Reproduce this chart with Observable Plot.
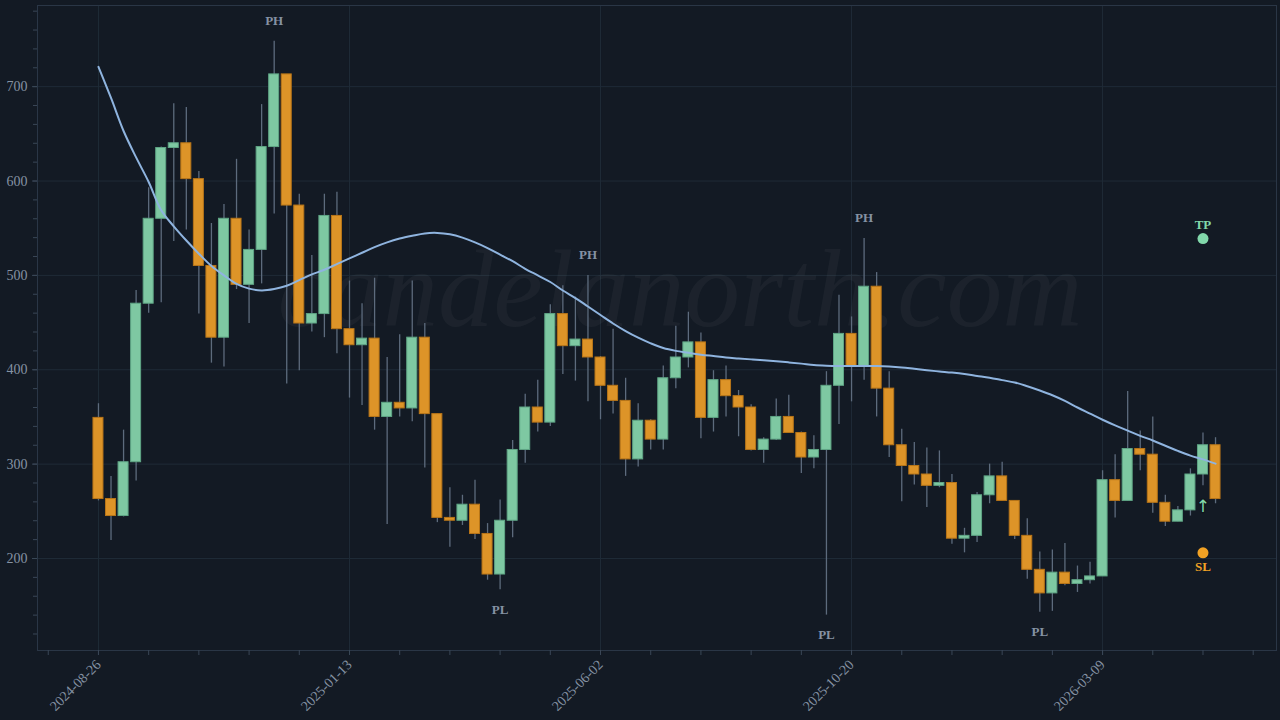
<!DOCTYPE html>
<html><head><meta charset="utf-8">
<script src="https://cdn.jsdelivr.net/npm/d3@7"></script>
<script src="https://cdn.jsdelivr.net/npm/@observablehq/plot@0.6"></script>
<style>
html,body{margin:0;padding:0;background:#131a24;overflow:hidden;}
</style></head><body><div id="chart"></div>
<script>
// ---- data (weekly candles starting 2024-08-26) ----
const startDate = "2024-08-26";
const opens  = [349,263,245,302,470,560,635,640,602,510,434,560,490,527,636,713,574,449,459,563,443,426,433,350,365,359,434,353,243,240,257,226,183,240,315,360,344,459,425,432,413,383,367,305,346,326,391,413,429,349,389,372,360,315,326,350,333,307,315,383,438,404,488,380,320,298,289,277,280,221,224,267,287,261,224,188,163,185,173,177,181,283,261,316,310,259,239,251,289,320];
const highs  = [364,287,336,484,593,636,682,678,610,555,575,623,548,681,748,713,586,521,586,588,494,470,497,413,437,494,449,353,275,267,283,237,262,325,374,389,469,489,477,500,414,443,391,364,347,404,446,461,439,399,404,378,363,328,369,373,334,330,398,479,456,539,503,398,337,323,317,314,289,232,270,300,302,261,242,207,209,216,192,196,293,310,377,335,350,267,255,295,333,328];
const lows   = [261,219,244,282,460,471,536,548,459,407,403,485,449,491,565,385,399,440,434,417,370,362,336,236,350,345,296,238,212,235,220,177,167,222,301,334,340,395,388,366,347,353,287,297,315,315,380,402,327,334,350,329,314,301,325,333,290,295,140,342,366,389,350,307,260,278,254,275,215,206,217,258,261,220,178,143,144,171,164,173,181,243,261,293,248,234,239,245,277,258];
const closes = [263,245,302,470,560,635,640,602,510,434,560,490,527,636,713,574,449,459,563,443,426,433,350,365,359,434,353,243,240,257,226,183,240,315,360,344,459,425,432,413,383,367,305,346,326,391,413,429,349,389,372,360,315,326,350,333,307,315,383,438,404,488,380,320,298,289,277,280,221,224,267,287,261,224,188,163,185,173,177,181,283,261,316,310,259,239,251,289,320,263];
const maValues = [721,688,653,625,599,569,552,537,523,510,500,491,486,484,485.5,489,495,501,506,512,518,524,530,535,539,542,544.5,545,543.5,540,535,529,522,515,507,500,493,484,476,467,458,449,441,434,428,423,420,418,416,414.5,413,412,411,410,409,407.8,406.5,405,404.3,404,404,404,404,403.5,402.5,401,399.5,398.2,397,395.5,393.5,391.5,389,386.5,382.5,378,373,367,360,353.5,347,341,335.5,330,325,319.5,314,309,305,300.5];
const xTickLabels = ["2024-08-26","2025-01-13","2025-06-02","2025-10-20","2026-03-09"];
const yTickLabels = [200,300,400,500,600,700];
const pivotHighIdx = [14,39,61];
const pivotLowIdx = [32,58,75];
const signalIdx = 88;
const tpValue = 539;
const slValue = 206;
const watermark = "candelanorth.com";

// ---- colours ----
const BG = "#131a24", UP = "#7ec8a2", UP_S = "#5fa585", DOWN = "#dd9428", DOWN_S = "#b87518";
const WICK = "#5d6b7d", GRID = "#1f2b37", AXIS = "#3a4757", TXT = "#8592a3";

const start = new Date(startDate + "T00:00:00Z");
const dates = d3.utcMonday.range(start, d3.utcMonday.offset(start, opens.length));
const candles = dates.map((date, i) => ({date, open: opens[i], high: highs[i], low: lows[i], close: closes[i], ma: maValues[i]}));
const pad = 34;
const xDomain = [d3.utcDay.offset(dates[0], -pad), d3.utcDay.offset(dates[dates.length - 1], pad)];
const xMajor = xTickLabels.map(s => new Date(s + "T00:00:00Z"));
const xMinor = d3.utcMonday.range(d3.utcMonday.offset(start, -4), xDomain[1], 4);
const yMinor = d3.range(120, 790, 20);
const half = 67; // hours, half body width
const highsP = pivotHighIdx.map(i => candles[i]);
const lowsP = pivotLowIdx.map(i => candles[i]);
const sig = candles[signalIdx];

const chart = Plot.plot({
  width: 1280, height: 720,
  marginLeft: 37, marginRight: 4, marginTop: 5, marginBottom: 70,
  style: {background: BG, color: TXT, fontFamily: "Liberation Serif", fontSize: "14px"},
  x: {type: "utc", domain: xDomain},
  y: {domain: [102.5, 786]},
  marks: [
    Plot.gridY(yTickLabels, {stroke: GRID, strokeOpacity: 1}),
    Plot.gridX(xMajor, {stroke: GRID, strokeOpacity: 1}),
    Plot.text([watermark], {frameAnchor: "middle", dx: 23, dy: -38, fontSize: 111, fontStyle: "italic", fontFamily: "Liberation Serif", fill: "#ffffff", fillOpacity: 0.04}),
    Plot.frame({stroke: "#2a3646"}),
    Plot.axisY(yMinor, {tickSize: 4, tickFormat: () => "", stroke: AXIS, label: null}),
    Plot.axisY(yTickLabels, {tickSize: 5, tickPadding: 5, stroke: AXIS, fill: TXT, fontSize: 14, label: null}),
    Plot.axisX(xMinor, {tickSize: 5, tickFormat: () => "", stroke: AXIS, label: null}),
    Plot.axisX(xMajor, {tickSize: 5, tickRotate: -45, tickFormat: (d, i) => xTickLabels[i], stroke: AXIS, fill: TXT, fontSize: 14, label: null}),
    Plot.ruleX(candles, {x: "date", y1: "low", y2: "high", stroke: WICK, strokeWidth: 1.3}),
    Plot.rect(candles, {filter: d => d.close >= d.open, x1: d => d3.utcHour.offset(d.date, -half), x2: d => d3.utcHour.offset(d.date, half), y1: "open", y2: "close", fill: UP, stroke: UP_S, strokeWidth: 1}),
    Plot.rect(candles, {filter: d => d.close < d.open, x1: d => d3.utcHour.offset(d.date, -half), x2: d => d3.utcHour.offset(d.date, half), y1: "open", y2: "close", fill: DOWN, stroke: DOWN_S, strokeWidth: 1}),
    Plot.line(candles, {x: "date", y: "ma", stroke: "#8fb4df", strokeWidth: 2, curve: "catmull-rom"}),
    Plot.text(highsP, {x: "date", y: "high", text: () => "PH", dy: -21, fontWeight: "bold", fontSize: 13, fill: TXT}),
    Plot.text(lowsP, {x: "date", y: "low", text: () => "PL", dy: 20, fontWeight: "bold", fontSize: 13, fill: TXT}),
    Plot.dot([{date: sig.date, v: tpValue}], {x: "date", y: "v", r: 5.5, fill: "#82d8ab", stroke: null}),
    Plot.text([{date: sig.date, v: tpValue}], {x: "date", y: "v", text: () => "TP", dy: -14, fontWeight: "bold", fontSize: 13, fill: "#82d8ab"}),
    Plot.dot([{date: sig.date, v: slValue}], {x: "date", y: "v", r: 5.5, fill: "#f2a224", stroke: null}),
    Plot.text([{date: sig.date, v: slValue}], {x: "date", y: "v", text: () => "SL", dy: 14, fontWeight: "bold", fontSize: 13, fill: "#f2a224"}),
    Plot.text([sig], {x: "date", y: "low", text: () => "↑", dy: 21, fontSize: 17, fontFamily: "DejaVu Sans", fill: "#82d8ab", stroke: "#10161e", strokeWidth: 3, paintOrder: "stroke"})
  ]
});
document.getElementById("chart").appendChild(chart);
</script>
</body></html>
